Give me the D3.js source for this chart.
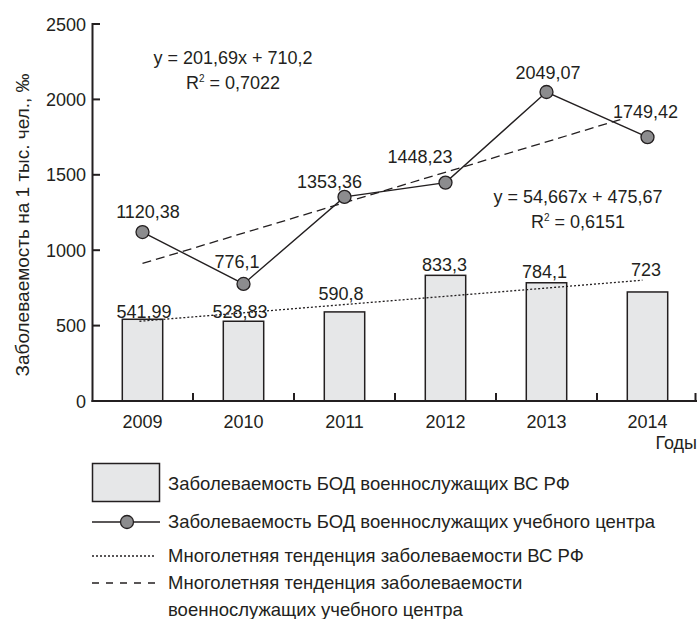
<!DOCTYPE html>
<html>
<head>
<meta charset="utf-8">
<script src="https://cdn.jsdelivr.net/npm/d3@7"></script>
<style>
  html, body { margin: 0; padding: 0; background: #fff; }
  svg { display: block; }
  text { font-family: "Liberation Sans", Arial, Helvetica, sans-serif; fill: #231f20; }
</style>
</head>
<body>
<svg id="chart" width="697" height="619"></svg>
<script>
// Years on the category axis
const years = ["2009", "2010", "2011", "2012", "2013", "2014"];
// Incidence among all armed-forces personnel (bars), per 1000
const armyRates = [541.99, 528.83, 590.8, 833.3, 784.1, 723];
const armyLabels = ["541,99", "528,83", "590,8", "833,3", "784,1", "723"];
// Incidence among training-centre personnel (line), per 1000
const centreRates = [1120.38, 776.1, 1353.36, 1448.23, 2049.07, 1749.42];
const centreLabels = ["1120,38", "776,1", "1353,36", "1448,23", "2049,07", "1749,42"];
// Linear trends: [slope, intercept], x = 1..6
const centreTrend = [201.69, 710.2];
const armyTrend = [54.667, 475.67];
// Visible extent of each trend line, in x units
const centreTrendSpan = [1, 5.76];
const armyTrendSpan = [0.97, 5.95];
const yTicks = [0, 500, 1000, 1500, 2000, 2500];

// Label nudges relative to the mark they describe [dx, dy]
const centreLabelNudge = [[5.5, -14], [-6.5, -16], [-15, -9], [-25.5, -19.5], [1.5, -13], [-2, -19]];
const armyLabelNudge = [[1.5, -1.5], [-3.5, -3], [-3.5, -12], [-1, -4.5], [-2, -5], [-1.5, -16]];

const ink = "#231f20";
const svg = d3.select("#chart");

const x = d3.scaleBand().domain(years).range([92, 698]);
const y = d3.scaleLinear().domain([0, 2500]).range([401, 24]);
const bw = x.bandwidth();
const cx = d => x(d) + bw / 2;
const xi = d3.scaleLinear().domain([1, 6]).range([cx(years[0]), cx(years[5])]);

// Bars
svg.append("g").selectAll("rect").data(years).join("rect")
  .attr("x", (d) => cx(d) - bw * 0.2)
  .attr("width", bw * 0.4)
  .attr("y", (d, i) => y(armyRates[i]))
  .attr("height", (d, i) => y(0) - y(armyRates[i]))
  .attr("fill", "#e6e7e8")
  .attr("stroke", ink)
  .attr("stroke-width", 1.5);

// Trend lines
function trendLine(coef, span, dash) {
  const pts = span.map(t => [xi(t), y(coef[0] * t + coef[1])]);
  svg.append("path")
    .attr("d", d3.line()(pts))
    .attr("fill", "none")
    .attr("stroke", ink)
    .attr("stroke-width", 1.3)
    .attr("stroke-dasharray", dash);
}
trendLine(armyTrend, armyTrendSpan, "2,2");
trendLine(centreTrend, centreTrendSpan, "9,5");

// Training-centre line with markers
svg.append("path")
  .attr("d", d3.line().x((d, i) => cx(years[i])).y(d => y(d))(centreRates))
  .attr("fill", "none")
  .attr("stroke", ink)
  .attr("stroke-width", 1.4);
svg.append("g").selectAll("circle").data(centreRates).join("circle")
  .attr("cx", (d, i) => cx(years[i]))
  .attr("cy", d => y(d))
  .attr("r", 6.5)
  .attr("fill", "#8c8c8e")
  .attr("stroke", ink)
  .attr("stroke-width", 1.3);

// Value labels
svg.append("g").selectAll("text").data(armyLabels).join("text")
  .attr("x", (d, i) => cx(years[i]) + armyLabelNudge[i][0])
  .attr("y", (d, i) => y(armyRates[i]) + armyLabelNudge[i][1])
  .attr("text-anchor", "middle")
  .attr("font-size", 18)
  .text(d => d);
svg.append("g").selectAll("text").data(centreLabels).join("text")
  .attr("x", (d, i) => cx(years[i]) + centreLabelNudge[i][0])
  .attr("y", (d, i) => y(centreRates[i]) + centreLabelNudge[i][1])
  .attr("text-anchor", "middle")
  .attr("font-size", 18)
  .text(d => d);

// Trend equations
const fmt = v => String(v).replace(".", ",");
function equation(coef, r2, xc, y1) {
  const g = svg.append("g").attr("font-size", 18).attr("text-anchor", "middle");
  g.append("text").attr("x", xc).attr("y", y1)
    .text(`y = ${fmt(coef[0])}x + ${fmt(coef[1])}`);
  const t = g.append("text").attr("x", xc).attr("y", y1 + 25);
  t.append("tspan").text("R");
  t.append("tspan").attr("font-size", 10).attr("dy", -7).text("2");
  t.append("tspan").attr("dy", 7).text(` = ${r2}`);
}
equation(centreTrend, "0,7022", 233, 64);
equation(armyTrend, "0,6151", 578, 203);

// Axes
const yAxis = svg.append("g");
yAxis.append("line").attr("x1", 92.5).attr("x2", 92.5).attr("y1", 23).attr("y2", 402)
  .attr("stroke", ink).attr("stroke-width", 2);
yAxis.selectAll("line.tick").data(yTicks).join("line").attr("class", "tick")
  .attr("x1", 92).attr("x2", 100).attr("y1", d => y(d)).attr("y2", d => y(d))
  .attr("stroke", ink).attr("stroke-width", 2);
yAxis.selectAll("text").data(yTicks).join("text")
  .attr("x", 86).attr("y", d => y(d) + 6.5)
  .attr("text-anchor", "end").attr("font-size", 18)
  .text(d => d);

const xAxis = svg.append("g");
xAxis.append("line").attr("x1", 91.5).attr("x2", 697).attr("y1", 401).attr("y2", 401)
  .attr("stroke", ink).attr("stroke-width", 2);
xAxis.selectAll("line.tick").data(years).join("line").attr("class", "tick")
  .attr("x1", d => Math.min(x(d) + bw, 695.5)).attr("x2", d => Math.min(x(d) + bw, 695.5))
  .attr("y1", 393).attr("y2", 401)
  .attr("stroke", ink).attr("stroke-width", 2);
xAxis.selectAll("text").data(years).join("text")
  .attr("x", d => cx(d)).attr("y", 428)
  .attr("text-anchor", "middle").attr("font-size", 18)
  .text(d => d);

svg.append("text").attr("x", 697).attr("y", 449).attr("text-anchor", "end")
  .attr("font-size", 18).text("Годы");

svg.append("text")
  .attr("transform", "translate(29,225) rotate(-90)")
  .attr("text-anchor", "middle").attr("font-size", 19)
  .text("Заболеваемость на 1 тыс. чел., ‰");

// Legend
const lg = svg.append("g");
lg.append("rect").attr("x", 92.5).attr("y", 463.5).attr("width", 67).attr("height", 38)
  .attr("fill", "#e6e7e8").attr("stroke", ink).attr("stroke-width", 1.5);
lg.append("line").attr("x1", 92).attr("x2", 160).attr("y1", 522).attr("y2", 522)
  .attr("stroke", ink).attr("stroke-width", 1.4);
lg.append("circle").attr("cx", 127).attr("cy", 522).attr("r", 6.5)
  .attr("fill", "#8c8c8e").attr("stroke", ink).attr("stroke-width", 1.3);
lg.append("line").attr("x1", 92).attr("x2", 154).attr("y1", 556).attr("y2", 556)
  .attr("stroke", ink).attr("stroke-width", 1.3).attr("stroke-dasharray", "2,2");
lg.append("line").attr("x1", 92).attr("x2", 160).attr("y1", 583).attr("y2", 583)
  .attr("stroke", ink).attr("stroke-width", 1.3).attr("stroke-dasharray", "7,7");

const legendText = [
  ["Заболеваемость БОД военнослужащих ВС РФ", 490],
  ["Заболеваемость БОД военнослужащих учебного центра", 528],
  ["Многолетняя тенденция заболеваемости ВС РФ", 562],
  ["Многолетняя тенденция заболеваемости", 589],
  ["военнослужащих учебного центра", 616]
];
lg.selectAll("text").data(legendText).join("text")
  .attr("x", 168).attr("y", d => d[1]).attr("font-size", 18.5)
  .text(d => d[0]);
</script>
</body>
</html>
